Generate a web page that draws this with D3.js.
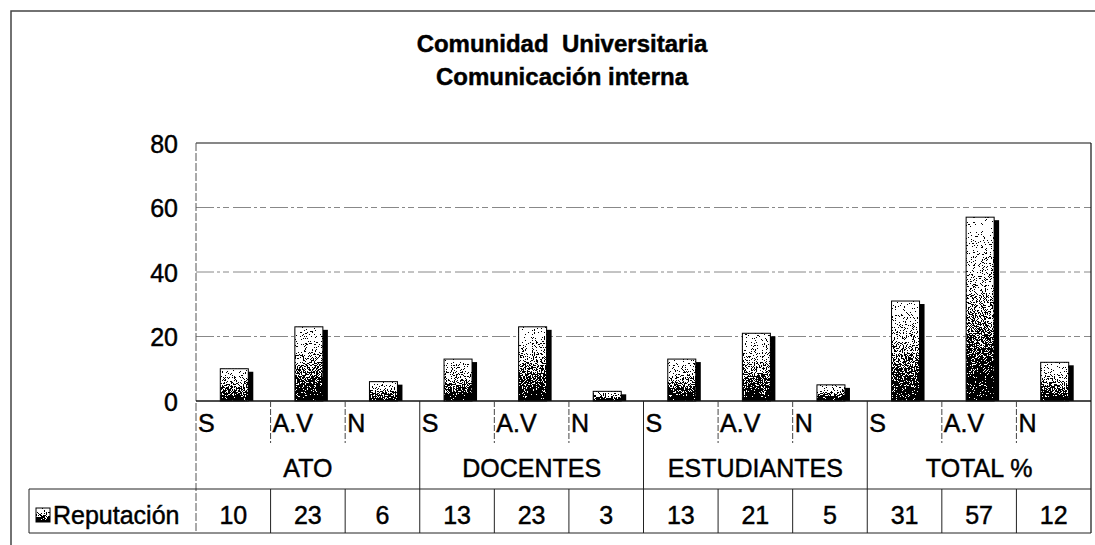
<!DOCTYPE html>
<html>
<head>
<meta charset="utf-8">
<script src="https://cdn.jsdelivr.net/npm/d3@7"></script>
<style>
  body { margin: 0; background: #fff; }
  text { font-family: "Liberation Sans", Arial, sans-serif; fill: #000; stroke: #000; stroke-width: 0.45px; white-space: pre; }
</style>
</head>
<body>
<div id="chart"></div>
<script>
var groups = ["ATO", "DOCENTES", "ESTUDIANTES", "TOTAL %"];
var subLabels = ["S", "A.V", "N"];
var values = [10, 23, 6, 13, 23, 3, 13, 21, 5, 31, 57, 12];
var yTicks = [0, 20, 40, 60, 80];
var seriesName = "Reputación";
var titleLines = ["Comunidad  Universitaria", "Comunicación interna"];

var width = 1095,
    height = 545,
    plotLeft = 196,
    plotRight = 1091,
    plotTop = 143,
    plotBottom = 401,
    rowSub = 443,
    rowGroup = 489,
    rowData = 533,
    legendLeft = 29;

var svg = d3.select("#chart")
    .append("svg")
    .attr("width", width)
    .attr("height", height);

var defs = svg.append("defs");

// light at top, black at base, dithered like the scanned print
var grad = defs.append("linearGradient")
    .attr("id", "barGrad")
    .attr("x1", 0).attr("y1", 0).attr("x2", 0).attr("y2", 1);
grad.append("stop").attr("offset", "0%").attr("stop-color", "#fff");
grad.append("stop").attr("offset", "40%").attr("stop-color", "#b4b4b4");
grad.append("stop").attr("offset", "100%").attr("stop-color", "#000");

var filt = defs.append("filter")
    .attr("id", "stipple")
    .attr("x", 0).attr("y", 0).attr("width", 1).attr("height", 1)
    .attr("color-interpolation-filters", "sRGB");
filt.append("feTurbulence")
    .attr("type", "fractalNoise")
    .attr("baseFrequency", 0.9)
    .attr("numOctaves", 2)
    .attr("seed", 4)
    .attr("result", "noise");
filt.append("feColorMatrix")
    .attr("in", "noise")
    .attr("type", "matrix")
    .attr("values", "1 0 0 0 0  1 0 0 0 0  1 0 0 0 0  0 0 0 0 1")
    .attr("result", "gray");
filt.append("feComposite")
    .attr("in", "SourceGraphic")
    .attr("in2", "gray")
    .attr("operator", "arithmetic")
    .attr("k1", 0).attr("k2", 1).attr("k3", 2.6).attr("k4", -1.3)
    .attr("result", "mix");
var ct = filt.append("feComponentTransfer").attr("in", "mix").attr("result", "dots");
["feFuncR", "feFuncG", "feFuncB"].forEach(function(f) {
    ct.append(f).attr("type", "discrete").attr("tableValues", "0 1");
});
filt.append("feComposite")
    .attr("in", "dots")
    .attr("in2", "SourceAlpha")
    .attr("operator", "in");

var x = d3.scaleBand()
    .domain(d3.range(values.length))
    .range([plotLeft, plotRight])
    .padding(0);

var y = d3.scaleLinear()
    .domain([0, 80])
    .range([plotBottom, plotTop]);

var bw = x.bandwidth(),
    barW = 28,
    shadow = 5;

// outer frame (cropped at right and bottom in the scan)
svg.append("path")
    .attr("d", "M11," + height + "V11H" + width)
    .attr("fill", "none")
    .attr("stroke", "#444")
    .attr("stroke-width", 1.5);

// title
svg.selectAll(".title")
    .data(titleLines).enter()
    .append("text")
    .attr("class", "title")
    .attr("x", 562)
    .attr("y", function(d, i) { return 52 + i * 33; })
    .attr("text-anchor", "middle")
    .attr("font-size", 24)
    .attr("font-weight", "bold")
    .text(function(d) { return d; });

// gridlines
svg.selectAll(".grid")
    .data(yTicks.filter(function(t) { return t > 0 && t < 80; })).enter()
    .append("line")
    .attr("x1", plotLeft).attr("x2", plotRight)
    .attr("y1", function(d) { return y(d); })
    .attr("y2", function(d) { return y(d); })
    .attr("stroke", "#888")
    .attr("stroke-dasharray", "18,3,3,3,6,4");

// plot frame
svg.append("line")
    .attr("x1", plotLeft).attr("x2", plotRight)
    .attr("y1", y(80)).attr("y2", y(80))
    .attr("stroke", "#111").attr("stroke-width", 1.2);
svg.append("line")
    .attr("x1", plotLeft).attr("x2", plotLeft)
    .attr("y1", y(80)).attr("y2", rowData)
    .attr("stroke", "#555").attr("stroke-dasharray", "8,2");
svg.append("line")
    .attr("x1", plotRight).attr("x2", plotRight)
    .attr("y1", y(80)).attr("y2", rowData)
    .attr("stroke", "#111").attr("stroke-width", 1.2);

// y axis labels
var yAxis = d3.axisLeft(y)
    .tickValues(yTicks)
    .tickSize(0)
    .tickPadding(18);
var yg = svg.append("g")
    .attr("transform", "translate(" + plotLeft + ",0)")
    .call(yAxis);
yg.select(".domain").remove();
yg.selectAll("text")
    .attr("font-size", 25)
    .attr("font-family", "'Liberation Sans', Arial, sans-serif")
    .attr("dy", "0.36em");

// bars: shadow, dithered face, outline
var bars = svg.selectAll(".bar")
    .data(values).enter()
    .append("g")
    .attr("class", "bar");
bars.append("rect")
    .attr("x", function(d, i) { return x(i) + bw / 2 - 13 + shadow; })
    .attr("y", function(d) { return y(d) + 3; })
    .attr("width", barW)
    .attr("height", function(d) { return plotBottom - y(d) - 3; })
    .attr("fill", "#000");
bars.append("rect")
    .attr("x", function(d, i) { return x(i) + bw / 2 - 13; })
    .attr("y", function(d) { return y(d); })
    .attr("width", barW)
    .attr("height", function(d) { return plotBottom - y(d); })
    .attr("fill", "url(#barGrad)")
    .attr("filter", "url(#stipple)");
bars.append("rect")
    .attr("x", function(d, i) { return x(i) + bw / 2 - 13; })
    .attr("y", function(d) { return y(d); })
    .attr("width", barW)
    .attr("height", function(d) { return plotBottom - y(d); })
    .attr("fill", "none")
    .attr("stroke", "#000")
    .attr("stroke-width", 1);

// baseline
svg.append("line")
    .attr("x1", plotLeft).attr("x2", plotRight)
    .attr("y1", plotBottom).attr("y2", plotBottom)
    .attr("stroke", "#111").attr("stroke-width", 1.5);

// table: sub labels row
var subs = values.map(function(v, i) { return subLabels[i % 3]; });
svg.selectAll(".subdiv")
    .data(d3.range(1, values.length).filter(function(i) { return i % 3 != 0; })).enter()
    .append("line")
    .attr("x1", function(i) { return x(i); })
    .attr("x2", function(i) { return x(i); })
    .attr("y1", plotBottom).attr("y2", rowSub)
    .attr("stroke", "#444").attr("stroke-dasharray", "6,2");
svg.selectAll(".sub")
    .data(subs).enter()
    .append("text")
    .attr("x", function(d, i) { return x(i) + 2; })
    .attr("y", 432)
    .attr("font-size", 25)
    .text(function(d) { return d; });

// group dividers and labels
svg.selectAll(".gdiv")
    .data(d3.range(1, groups.length)).enter()
    .append("line")
    .attr("x1", function(g) { return x(g * 3); })
    .attr("x2", function(g) { return x(g * 3); })
    .attr("y1", plotBottom).attr("y2", rowGroup)
    .attr("stroke", "#222");
svg.selectAll(".group")
    .data(groups).enter()
    .append("text")
    .attr("x", function(d, i) { return x(i * 3) + bw * 1.5; })
    .attr("y", 477)
    .attr("text-anchor", "middle")
    .attr("font-size", 25)
    .text(function(d) { return d; });

// data row
svg.append("line")
    .attr("x1", legendLeft).attr("x2", plotRight)
    .attr("y1", rowGroup).attr("y2", rowGroup)
    .attr("stroke", "#222");
svg.append("line")
    .attr("x1", legendLeft).attr("x2", plotRight)
    .attr("y1", rowData).attr("y2", rowData)
    .attr("stroke", "#222");
svg.append("line")
    .attr("x1", legendLeft).attr("x2", legendLeft)
    .attr("y1", rowGroup).attr("y2", rowData)
    .attr("stroke", "#222");
svg.selectAll(".ddiv")
    .data(d3.range(1, values.length)).enter()
    .append("line")
    .attr("x1", function(i) { return x(i); })
    .attr("x2", function(i) { return x(i); })
    .attr("y1", rowGroup).attr("y2", rowData)
    .attr("stroke", "#222");
svg.selectAll(".val")
    .data(values).enter()
    .append("text")
    .attr("x", function(d, i) { return x(i) + bw / 2; })
    .attr("y", 524)
    .attr("text-anchor", "middle")
    .attr("font-size", 25)
    .text(function(d) { return d; });

// legend key
svg.append("rect")
    .attr("x", 36).attr("y", 508)
    .attr("width", 14).attr("height", 14)
    .attr("fill", "url(#barGrad)")
    .attr("filter", "url(#stipple)");
svg.append("rect")
    .attr("x", 36).attr("y", 508)
    .attr("width", 14).attr("height", 14)
    .attr("fill", "none")
    .attr("stroke", "#000");
svg.append("text")
    .attr("x", 53)
    .attr("y", 524)
    .attr("font-size", 25)
    .text(seriesName);
</script>
</body>
</html>
